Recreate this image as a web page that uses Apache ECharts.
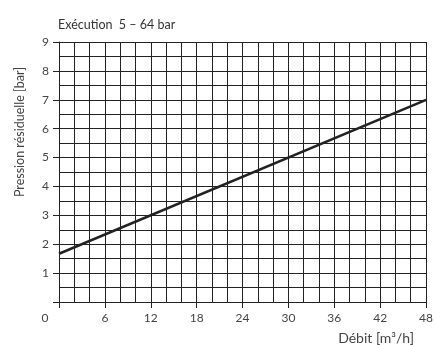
<!DOCTYPE html>
<html>
<head>
<meta charset="utf-8">
<script src="https://cdn.jsdelivr.net/npm/echarts@6/dist/echarts.min.js"></script>
<style>
  html, body { margin: 0; padding: 0; background: #fff; }
  #chart { width: 436px; height: 345px; }
</style>
</head>
<body>
<div id="chart"></div>
<script>
// Residual pressure vs. flow rate
const titleText = 'Exécution  5 – 64 bar';
const yAxisTitle = 'Pression résiduelle [bar]';
const xAxisTitle = 'Débit [m³/h]';

const flowRate = [0, 48];             // m³/h
const residualPressure = [1.67, 7.0]; // bar

const xTicks = [0, 6, 12, 18, 24, 30, 36, 42, 48];
const yTicks = [0, 1, 2, 3, 4, 5, 6, 7, 8, 9];

const FONT = 'Lato, "Noto Sans", sans-serif';
const INK = '#222';
const TEXT = '#444';

const chart = echarts.init(document.getElementById('chart'), null, { renderer: 'canvas' });

chart.setOption({
  animation: false,
  backgroundColor: '#fff',
  title: {
    text: titleText,
    left: 53,
    top: 13,
    textStyle: { fontFamily: FONT, fontSize: 12.5, fontWeight: 'normal', color: '#333' }
  },
  grid: { left: 59, right: 9, top: 42, bottom: 43, containLabel: false },
  xAxis: {
    type: 'value',
    min: xTicks[0],
    max: xTicks[xTicks.length - 1],
    interval: 6,
    axisLine: { show: true, lineStyle: { color: INK, width: 1 } },
    axisTick: { show: true, length: 6, inside: false, lineStyle: { color: INK, width: 1 } },
    minorTick: { show: false, splitNumber: 3 },
    splitLine: { show: true, lineStyle: { color: INK, width: 1 } },
    minorSplitLine: { show: true, lineStyle: { color: INK, width: 1 } },
    axisLabel: {
      margin: 10,
      fontFamily: FONT,
      fontSize: 12,
      color: TEXT,
      formatter: v => (v === 0 ? '{z|0}' : String(v)),
      rich: { z: { fontFamily: FONT, fontSize: 12, color: TEXT, padding: [0, 28, 0, 0] } }
    }
  },
  yAxis: {
    type: 'value',
    min: yTicks[0],
    max: yTicks[yTicks.length - 1],
    interval: 1,
    axisLine: { show: true, lineStyle: { color: INK, width: 1 } },
    axisTick: { show: true, length: 6, inside: false, lineStyle: { color: INK, width: 1 } },
    minorTick: { show: false, splitNumber: 2 },
    splitLine: { show: true, lineStyle: { color: INK, width: 1 } },
    minorSplitLine: { show: true, lineStyle: { color: INK, width: 1 } },
    axisLabel: {
      margin: 10,
      fontFamily: FONT,
      fontSize: 12,
      color: TEXT,
      formatter: v => (v === 0 ? '' : String(v))
    }
  },
  graphic: [
    {
      type: 'text',
      x: 20,
      y: 132,
      rotation: Math.PI / 2,
      style: {
        text: yAxisTitle,
        fontFamily: FONT,
        fontSize: 12.5,
        fill: TEXT,
        align: 'center',
        verticalAlign: 'middle'
      }
    },
    {
      type: 'text',
      x: 414,
      y: 338,
      style: {
        text: xAxisTitle,
        fontFamily: FONT,
        fontSize: 14,
        fill: TEXT,
        align: 'right',
        verticalAlign: 'middle'
      }
    }
  ],
  series: [{
    type: 'line',
    data: flowRate.map((x, i) => [x, residualPressure[i]]),
    showSymbol: false,
    lineStyle: { color: INK, width: 2.5 },
    z: 5
  }]
});
</script>
</body>
</html>
